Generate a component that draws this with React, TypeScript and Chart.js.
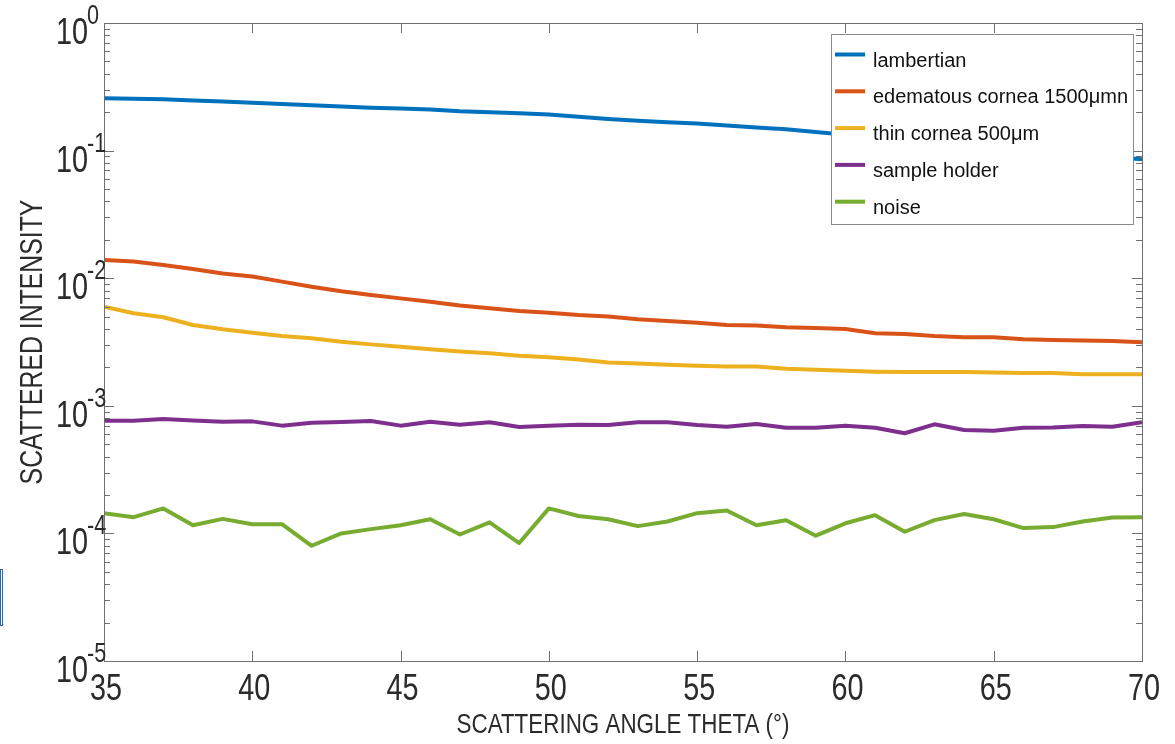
import React, { useEffect, useRef } from "react";
import { Chart, registerables } from "chart.js";

Chart.register(...registerables);

const angles = [35, 36, 37, 38, 39, 40, 41, 42, 43, 44, 45, 46, 47, 48, 49, 50, 51, 52, 53, 54, 55, 56, 57, 58, 59, 60, 61, 62, 63, 64, 65, 66, 67, 68, 69, 70];

const lambertian = [0.257, 0.255, 0.253, 0.247, 0.243, 0.237, 0.232, 0.227, 0.222, 0.217, 0.214, 0.21, 0.203, 0.2, 0.196, 0.192, 0.184, 0.177, 0.171, 0.167, 0.163, 0.157, 0.152, 0.147, 0.14, 0.133, 0.127, 0.121, 0.115, 0.11, 0.105, 0.1, 0.096, 0.092, 0.089, 0.0855];

const edematous = [0.0139, 0.0135, 0.0127, 0.0118, 0.0109, 0.0103, 0.0094, 0.00858, 0.0079, 0.00738, 0.00695, 0.00654, 0.0061, 0.00581, 0.00553, 0.00537, 0.00515, 0.00502, 0.00476, 0.00462, 0.00448, 0.0043, 0.00425, 0.00412, 0.00407, 0.004, 0.0037, 0.00365, 0.00352, 0.00344, 0.00344, 0.00332, 0.00328, 0.00325, 0.00322, 0.00315];

const thinCornea = [0.00598, 0.00531, 0.00494, 0.0043, 0.00398, 0.00374, 0.00352, 0.00338, 0.00318, 0.00303, 0.0029, 0.00277, 0.00266, 0.00258, 0.00247, 0.0024, 0.00231, 0.00218, 0.00215, 0.0021, 0.00206, 0.00203, 0.00203, 0.00195, 0.00192, 0.00188, 0.00185, 0.00184, 0.00184, 0.00184, 0.00182, 0.00181, 0.00181, 0.00177, 0.00177, 0.00177];

const sampleHolder = [0.000764, 0.000764, 0.000788, 0.000768, 0.00075, 0.000755, 0.000699, 0.000738, 0.000748, 0.00076, 0.000699, 0.00075, 0.000711, 0.000743, 0.000682, 0.000699, 0.000711, 0.000706, 0.000743, 0.000743, 0.000706, 0.000686, 0.00072, 0.000673, 0.000673, 0.000699, 0.000673, 0.000609, 0.000716, 0.000646, 0.000638, 0.000673, 0.000676, 0.000695, 0.000686, 0.000743];

const noise = [1.44e-4, 1.34e-4, 1.57e-4, 1.16e-4, 1.3e-4, 1.18e-4, 1.18e-4, 8.0e-5, 1.0e-4, 1.08e-4, 1.16e-4, 1.29e-4, 9.8e-5, 1.22e-4, 8.4e-5, 1.57e-4, 1.37e-4, 1.29e-4, 1.14e-4, 1.24e-4, 1.44e-4, 1.51e-4, 1.16e-4, 1.27e-4, 9.6e-5, 1.2e-4, 1.39e-4, 1.03e-4, 1.27e-4, 1.42e-4, 1.29e-4, 1.1e-4, 1.12e-4, 1.24e-4, 1.33e-4, 1.34e-4];

const seriesLabels = ["lambertian", "edematous cornea 1500\u03bcmn", "thin cornea 500\u03bcm", "sample holder", "noise"];
const seriesColors = ["#0072BD", "#D95319", "#EDB120", "#7E2F8E", "#77AC30"];

const xTicks = [35, 40, 45, 50, 55, 60, 65, 70];
const yExponents = [0, -1, -2, -3, -4, -5];

const xTitle = "SCATTERING ANGLE THETA (\u00b0)";
const yTitle = "SCATTERED INTENSITY";

const FONT = "'Liberation Sans', Arial, Helvetica, sans-serif";

function narrowText(ctx: CanvasRenderingContext2D, text: string, x: number, y: number, size: number, align: CanvasTextAlign, sx = 0.8) {
  ctx.save();
  ctx.translate(x, y);
  ctx.scale(sx, 1);
  ctx.font = `${size}px ${FONT}`;
  ctx.textAlign = align;
  ctx.textBaseline = "alphabetic";
  ctx.fillText(text, 0, 0);
  ctx.restore();
}

const decorPlugin = {
  id: "matlabDecor",
  afterDatasetsDraw(chart: any) {
    const ctx: CanvasRenderingContext2D = chart.ctx;
    const xs = chart.scales.x;
    const ys = chart.scales.y;
    const { left, right, top, bottom } = chart.chartArea;
    const axisColor = "#707070";

    ctx.save();
    ctx.strokeStyle = axisColor;
    ctx.lineWidth = 1;
    ctx.strokeRect(Math.round(left) + 0.5, Math.round(top) + 0.5, Math.round(right - left), Math.round(bottom - top));

    ctx.beginPath();
    xTicks.forEach((v) => {
      const px = Math.round(xs.getPixelForValue(v)) + 0.5;
      ctx.moveTo(px, bottom);
      ctx.lineTo(px, bottom - 10);
      ctx.moveTo(px, top);
      ctx.lineTo(px, top + 10);
    });
    yExponents.forEach((e) => {
      for (let m = 1; m <= 9; m++) {
        const v = m * Math.pow(10, e);
        if (v > 1.0000001 || v < 0.99999e-5) continue;
        const py = Math.round(ys.getPixelForValue(v)) + 0.5;
        const len = m === 1 ? 10 : 6;
        ctx.moveTo(left, py);
        ctx.lineTo(left + len, py);
        ctx.moveTo(right, py);
        ctx.lineTo(right - len, py);
      }
    });
    ctx.stroke();

    ctx.fillStyle = "#2b2b2b";
    xTicks.forEach((v) => {
      const px = xs.getPixelForValue(v);
      narrowText(ctx, String(v), px + 2, bottom + 39, 36, "center");
    });
    yExponents.forEach((e) => {
      const py = ys.getPixelForValue(Math.pow(10, e));
      narrowText(ctx, "10", left - 16, py + 21, 36, "right");
      narrowText(ctx, String(e), left - 17, py + 1, 27, "left");
    });

    narrowText(ctx, xTitle, (left + right) / 2, bottom + 72, 28, "center");
    ctx.save();
    ctx.translate(left - 62, (top + bottom) / 2);
    ctx.rotate(-Math.PI / 2);
    narrowText(ctx, yTitle, 0, 0, 31, "center");
    ctx.restore();

    const lx = 831.5, ly = 34.5, lw = 302, lh = 190;
    ctx.fillStyle = "#ffffff";
    ctx.fillRect(lx, ly, lw, lh);
    ctx.strokeStyle = "#8a8a8a";
    ctx.lineWidth = 1;
    ctx.strokeRect(lx, ly, lw, lh);
    chart.data.datasets.forEach((ds: any, i: number) => {
      const base = 66.5 + 36.8 * i;
      ctx.strokeStyle = ds.borderColor;
      ctx.lineWidth = 4;
      ctx.beginPath();
      ctx.moveTo(835, base - 12);
      ctx.lineTo(865, base - 12);
      ctx.stroke();
      ctx.fillStyle = "#111111";
      ctx.font = `20px ${FONT}`;
      ctx.textAlign = "left";
      ctx.textBaseline = "alphabetic";
      ctx.fillText(ds.label, 873, base);
    });
    ctx.restore();
  },
};

export default function App() {
  const canvasRef = useRef<HTMLCanvasElement | null>(null);

  useEffect(() => {
    if (!canvasRef.current) return;
    const series = [lambertian, edematous, thinCornea, sampleHolder, noise];
    const chart = new Chart(canvasRef.current, {
      type: "line",
      data: {
        datasets: series.map((vals, i) => ({
          label: seriesLabels[i],
          data: angles.map((a, j) => ({ x: a, y: vals[j] })),
          borderColor: seriesColors[i],
          backgroundColor: seriesColors[i],
          borderWidth: 4,
          pointRadius: 0,
          tension: 0,
          fill: false,
          borderJoinStyle: "round" as const,
        })),
      },
      options: {
        responsive: false,
        animation: false,
        devicePixelRatio: 1,
        layout: { padding: { left: 104, top: 23, right: 33, bottom: 83 } },
        plugins: {
          legend: { display: false },
          tooltip: { enabled: false },
          title: { display: false },
        },
        scales: {
          x: { type: "linear", min: 35, max: 70, display: false },
          y: { type: "logarithmic", min: 1e-5, max: 1, display: false },
        },
      },
      plugins: [decorPlugin],
    });
    return () => chart.destroy();
  }, []);

  return (
    <div style={{ position: "absolute", left: 0, top: 0, width: 1175, height: 744, background: "#ffffff" }}>
      <canvas ref={canvasRef} width={1175} height={744} style={{ display: "block" }} />
      <div style={{ position: "absolute", left: 0, top: 569, width: 1, height: 55, border: "1px solid #3b62a3" }} />
    </div>
  );
}
